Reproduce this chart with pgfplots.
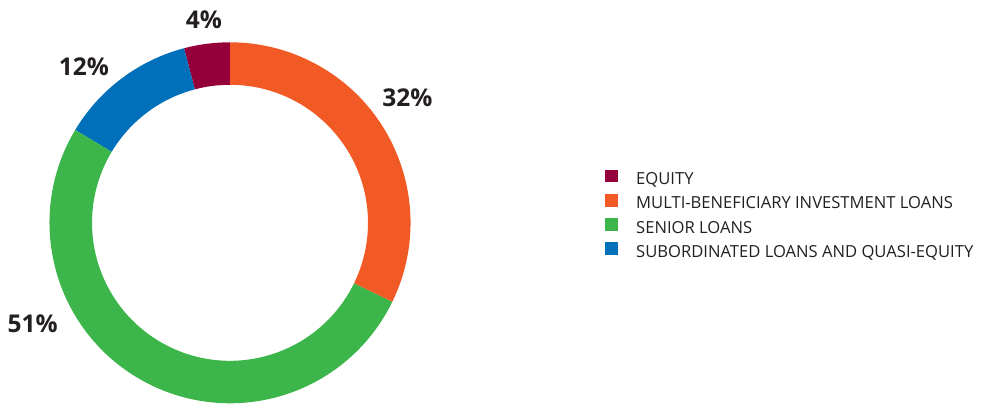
\documentclass[border=0pt]{standalone}
\usepackage{pgfplots}
\usepackage{pgfplotstable}
\pgfplotsset{compat=1.18}
\usepackage{fontspec}
\setmainfont{Open Sans}
\definecolor{cEq}{HTML}{96003A}
\definecolor{cMul}{HTML}{F15A24}
\definecolor{cSen}{HTML}{3CB54A}
\definecolor{cSub}{HTML}{0070BA}
\definecolor{txt}{HTML}{231F20}

% shares in %, counter-clockwise from 12 o'clock
\pgfplotstableread{
label value color
EQUITY 4.1 cEq
SUBORD 12.3 cSub
SENIOR 51.4 cSen
MULTI 32.2 cMul
}\sharetable

\def\cum{90}
\pgfplotsforeachungrouped \i in {0,...,3}{%
  \pgfplotstablegetelem{\i}{value}\of\sharetable
  \pgfmathsetmacro\wstart{\cum}%
  \pgfmathsetmacro\wstop{\cum+3.6*\pgfplotsretval}%
  \expandafter\xdef\csname wedgeS\i\endcsname{\wstart}%
  \expandafter\xdef\csname wedgeE\i\endcsname{\wstop}%
  \pgfplotstablegetelem{\i}{color}\of\sharetable
  \expandafter\xdef\csname wedgeC\i\endcsname{\pgfplotsretval}%
  \xdef\cum{\wstop}%
}

\begin{document}
\begin{tikzpicture}
\begin{axis}[
  x=1pt, y=1pt,
  xmin=0, xmax=996, ymin=0, ymax=405,
  hide axis, clip=false,
  legend image code/.code={\fill[#1, draw=none] (0pt,0pt) rectangle (13pt,12.5pt); \path (31pt,0pt);},
  legend style={
    at={(axis cs:605,235)}, anchor=north west,
    draw=none, fill=none, inner sep=0pt, outer sep=0pt,
    font=\fontsize{16.6pt}{20pt}\selectfont\color{txt},
    nodes={inner sep=0pt, text height=14pt, text depth=9.2pt},
    cells={anchor=west},
  },
]
\path (axis cs:0,0) rectangle (axis cs:996,405);
\pgfplotsinvokeforeach{0,1,2,3}{%
  \edef\doit{\noexpand\fill[fill=\csname wedgeC#1\endcsname]
    (axis cs:230,182.2) ++(\csname wedgeS#1\endcsname:180.5pt)
    arc[start angle=\csname wedgeS#1\endcsname, end angle=\csname wedgeE#1\endcsname, radius=180.5pt]
    -- ++(\csname wedgeE#1\endcsname:-42.5pt)
    arc[start angle=\csname wedgeE#1\endcsname, end angle=\csname wedgeS#1\endcsname, radius=138pt]
    -- cycle;}%
  \doit
}
\addlegendimage{fill=cEq}\addlegendentry{EQUITY}
\addlegendimage{fill=cMul}\addlegendentry{MULTI-BENEFICIARY INVESTMENT LOANS}
\addlegendimage{fill=cSen}\addlegendentry{SENIOR LOANS}
\addlegendimage{fill=cSub}\addlegendentry{SUBORDINATED LOANS AND QUASI-EQUITY}

\tikzset{pct/.style={anchor=base, inner sep=0pt, text=txt, font=\fontsize{24.5pt}{28pt}\selectfont\bfseries}}
\node[pct] at (axis cs:204,376.7) {4\%};
\node[pct] at (axis cs:84,329) {12\%};
\node[pct] at (axis cs:407.3,298) {32\%};
\node[pct] at (axis cs:32.7,72.7) {51\%};
\end{axis}
\end{tikzpicture}
\end{document}
